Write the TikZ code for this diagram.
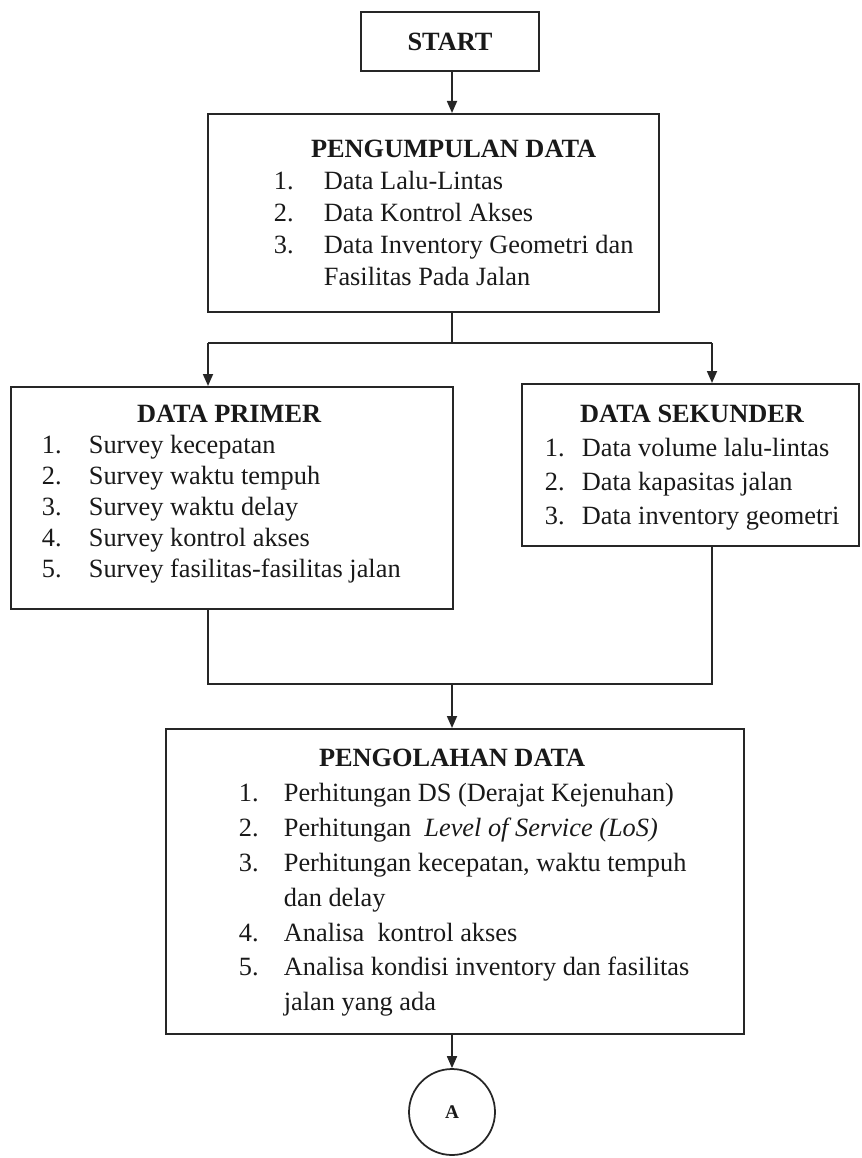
\documentclass[tikz,border=0pt]{standalone}
\usepackage{fontspec}
\setmainfont{Liberation Serif}
\usetikzlibrary{arrows.meta,positioning}
\newlength{\px}
\setlength{\px}{0.02cm}
\newcommand{\panel}[5]{\parbox[c][#2\px][t]{#1\px}{\vspace*{#3\px}\hspace*{#4\px}#5}}
\tikzset{
  box/.style={draw=black!85, line width=1pt, inner sep=0pt, anchor=north west, text=black!90},
  link/.style={draw=black!85, line width=1pt},
  arrow/.style={link, -{Triangle[length=2.4mm,width=2mm]}},
}

\begin{document}
\begin{tikzpicture}[x=0.02cm, y=-0.02cm]
		%%%%% START %%%%%
		\useasboundingbox (0,0) rectangle (861,1158);
		
		\node[box, anchor=center, minimum width=3.56cm, minimum height=1.18cm, font=\fontsize{15}{18}\selectfont\bfseries] (start) at (450,41.5) {START};
		
		\node[box, font=\fontsize{15}{18.14}\selectfont] (collect) at (207,113) {\panel{451}{198}{21.6}{66}{%
			\begin{tabular}[t]{@{}p{50\px}@{}l@{}}
				\multicolumn{2}{@{}c@{}}{\textbf{PENGUMPULAN DATA}}\\
				1. & Data Lalu-Lintas\\
				2. & Data Kontrol Akses\\
				3. & Data Inventory Geometri dan\\
				   & Fasilitas Pada Jalan
			\end{tabular}}};
		
		\node[box, font=\fontsize{15}{17.57}\selectfont] (primer) at (10,386) {\panel{442}{222}{14.3}{31}{%
			\begin{tabular}[t]{@{}p{47\px}@{}l@{}}
				\multicolumn{2}{@{}c@{}}{\hspace*{16\px}\textbf{DATA PRIMER}}\\
				1. & Survey kecepatan\\
				2. & Survey waktu tempuh\\
				3. & Survey waktu delay\\
				4. & Survey kontrol akses\\
				5. & Survey fasilitas-fasilitas jalan
			\end{tabular}}};
		
		\node[box, font=\fontsize{15}{19.27}\selectfont] (sekunder) at (521,383) {\panel{337}{162}{15.2}{23}{%
			\begin{tabular}[t]{@{}p{37\px}@{}l@{}}
				\multicolumn{2}{@{}c@{}}{\textbf{DATA SEKUNDER}}\\
				1. & Data volume lalu-lintas\\
				2. & Data kapasitas jalan\\
				3. & Data inventory geometri
			\end{tabular}}};
		
		\node[box, font=\fontsize{15}{19.84}\selectfont] (process) at (165,728) {\panel{578}{305}{13.5}{73}{%
			\begin{tabular}[t]{@{}p{45\px}@{}l@{}}
				\multicolumn{2}{@{}c@{}}{\hspace*{-24\px}\textbf{PENGOLAHAN DATA}}\\
				1. & Perhitungan DS (Derajat Kejenuhan)\\
				2. & Perhitungan\ \ \textit{Level of Service (LoS)}\\
				3. & Perhitungan kecepatan, waktu tempuh\\
				   & dan delay\\
				4. & Analisa\ \ kontrol akses\\
				5. & Analisa kondisi inventory dan fasilitas\\
				   & jalan yang ada
			\end{tabular}}};
		
		\node[link, circle, minimum size=1.72cm, inner sep=0pt, text=black!90, font=\fontsize{11}{13}\selectfont\bfseries] (A) at (452,1112) {A};
		
		\coordinate (split) at (452,343);
		\coordinate (lbranch) at (208,343);
		\coordinate (rbranch) at (712,343);
		\coordinate (merge) at (452,684);
		
		\draw[arrow] (split |- start.south) -- (split |- collect.north);
		\draw[link] (split |- collect.south) -- (split);
		\draw[link] (lbranch) -- (rbranch);
		\draw[arrow] (lbranch) -- (lbranch |- primer.north);
		\draw[arrow] (rbranch) -- (rbranch |- sekunder.north);
		\draw[link] (lbranch |- primer.south) -- (lbranch |- merge) -- (rbranch |- merge) -- (rbranch |- sekunder.south);
		\draw[arrow] (merge) -- (merge |- process.north);
		\draw[arrow] (A.north |- process.south) -- (A.north);
		%%%%% END %%%%%
\end{tikzpicture}
\end{document}
